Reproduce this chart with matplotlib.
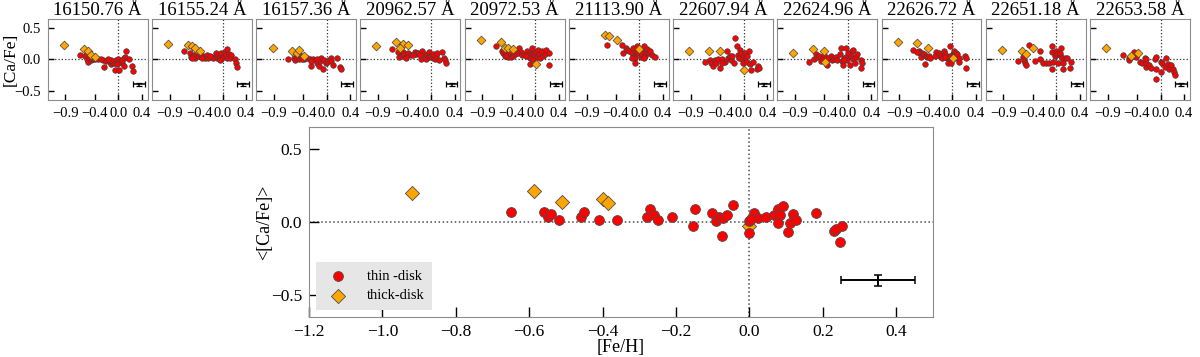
import matplotlib
matplotlib.use("Agg")
import matplotlib.pyplot as plt

plt.rcParams['font.family'] = ['Liberation Serif', 'DejaVu Serif']
plt.rcParams['mathtext.fontset'] = 'stix'

# line-by-line [Ca/Fe] vs [Fe/H], (feh, ca) pairs
titles = ["16150.76 Å", "16155.24 Å", "16157.36 Å", "20962.57 Å", "20972.53 Å",
          "21113.90 Å", "22607.94 Å", "22624.96 Å", "22626.72 Å", "22651.18 Å",
          "22653.58 Å"]

thin_16150 = [(-0.66, 0.07), (-0.56, 0.05), (-0.54, 0.00), (-0.52, -0.04), (-0.47, -0.01),
              (-0.43, 0.00), (-0.39, 0.00), (-0.35, 0.01), (-0.26, -0.01), (-0.25, -0.12),
              (-0.21, -0.02), (-0.15, -0.04), (-0.13, -0.08), (-0.10, -0.04), (-0.07, -0.06),
              (-0.06, -0.17), (-0.04, -0.01), (0.00, 0.00), (0.02, -0.17), (0.03, -0.04),
              (0.06, -0.05), (0.09, 0.02), (0.10, -0.11), (0.13, 0.14), (0.12, 0.04),
              (0.19, 0.00), (0.24, -0.11), (0.25, -0.18), (-0.12, -0.01), (-0.18, 0.00),
              (-0.30, 0.00), (-0.49, 0.02), (-0.42, 0.03), (-0.02, -0.08), (0.07, -0.01)]
thick_16150 = [(-0.93, 0.23), (-0.59, 0.17), (-0.52, 0.14), (-0.46, 0.07), (-0.39, 0.04)]

thin_16155 = [(-0.66, 0.14), (-0.56, 0.10), (-0.54, 0.04), (-0.49, 0.07), (-0.46, 0.03),
              (-0.42, 0.05), (-0.38, 0.09), (-0.33, 0.05), (-0.29, 0.03), (-0.27, 0.07),
              (-0.24, 0.02), (-0.18, 0.04), (-0.16, 0.03), (-0.11, 0.11), (-0.10, 0.03),
              (-0.07, 0.07), (-0.06, 0.02), (-0.03, 0.10), (-0.02, 0.00), (0.01, 0.04),
              (0.04, 0.12), (0.07, 0.17), (0.06, 0.07), (0.08, 0.02), (0.11, 0.09),
              (0.12, 0.03), (0.15, 0.07), (0.22, 0.00), (0.23, -0.05), (0.25, -0.12),
              (-0.21, 0.05), (-0.35, 0.02), (-0.52, 0.02), (-0.04, -0.01)]
thick_16155 = [(-0.93, 0.25), (-0.59, 0.24), (-0.52, 0.21), (-0.46, 0.18), (-0.39, 0.14)]

thin_16157 = [(-0.66, 0.01), (-0.56, 0.02), (-0.54, -0.01), (-0.51, 0.03), (-0.47, 0.00),
              (-0.43, 0.05), (-0.39, 0.00), (-0.37, 0.04), (-0.34, 0.02), (-0.28, 0.00),
              (-0.27, -0.10), (-0.23, 0.00), (-0.19, -0.01), (-0.16, -0.05), (-0.14, -0.10),
              (-0.12, -0.03), (-0.09, 0.03), (-0.07, -0.15), (-0.04, -0.01), (-0.02, -0.05),
              (0.01, -0.04), (0.03, -0.01), (0.08, 0.02), (0.11, -0.09), (0.18, 0.03),
              (0.22, -0.12), (0.24, -0.15), (-0.17, 0.01), (-0.26, -0.02), (-0.42, 0.01),
              (0.07, -0.02)]
thick_16157 = [(-0.92, 0.19), (-0.59, 0.14), (-0.51, 0.11), (-0.47, 0.15), (-0.39, 0.05)]

thin_20962 = [(-0.66, 0.17), (-0.56, 0.12), (-0.54, 0.04), (-0.50, 0.05), (-0.47, 0.12),
              (-0.46, 0.09), (-0.42, 0.04), (-0.39, 0.10), (-0.34, 0.07), (-0.28, 0.12),
              (-0.25, 0.09), (-0.22, 0.10), (-0.17, 0.00), (-0.16, 0.14), (-0.12, 0.09),
              (-0.08, 0.00), (-0.07, 0.07), (-0.04, 0.12), (-0.03, 0.04), (0.00, 0.05),
              (0.03, 0.02), (0.04, 0.09), (0.07, 0.00), (0.08, 0.05), (0.11, 0.10),
              (0.14, -0.01), (0.19, 0.12), (0.22, 0.03), (0.24, -0.01), (0.26, -0.06),
              (-0.19, 0.07), (-0.31, 0.07), (-0.43, 0.02)]
thick_20962 = [(-0.93, 0.22), (-0.59, 0.28), (-0.47, 0.25), (-0.39, 0.24), (-0.53, 0.18)]

thin_20972 = [(-0.66, 0.22), (-0.57, 0.14), (-0.55, 0.10), (-0.52, 0.05), (-0.49, 0.11),
              (-0.47, 0.04), (-0.44, 0.09), (-0.41, 0.04), (-0.37, 0.05), (-0.34, 0.09),
              (-0.30, 0.11), (-0.27, 0.19), (-0.24, 0.12), (-0.22, 0.07), (-0.17, 0.09),
              (-0.14, 0.14), (-0.12, 0.05), (-0.09, 0.11), (-0.08, 0.03), (-0.06, 0.09),
              (-0.05, 0.18), (-0.04, 0.00), (-0.02, 0.11), (-0.01, 0.07), (0.02, 0.12),
              (0.03, 0.04), (0.05, 0.16), (0.07, 0.09), (0.09, 0.02), (0.11, 0.14),
              (0.13, 0.05), (0.16, 0.09), (0.18, 0.15), (0.23, 0.10), (0.24, -0.09),
              (-0.08, -0.08), (-0.16, 0.05), (-0.49, 0.05)]
thick_20972 = [(-0.92, 0.32), (-0.59, 0.28), (-0.51, 0.19), (-0.47, 0.18), (-0.38, 0.17),
               (0.01, -0.08)]

thin_21113 = [(-0.55, 0.23), (-0.29, 0.23), (-0.28, 0.11), (-0.23, 0.18), (-0.21, 0.15),
              (-0.17, 0.14), (-0.13, 0.10), (-0.11, 0.18), (-0.09, 0.05), (-0.08, 0.02),
              (-0.07, -0.06), (-0.05, 0.12), (-0.02, 0.10), (0.02, 0.04), (0.03, 0.15),
              (0.04, 0.09), (0.07, 0.22), (0.09, 0.05), (0.11, 0.12), (0.13, 0.17),
              (0.16, 0.10), (0.18, 0.14), (0.21, 0.07), (0.26, 0.04), (-0.04, 0.21),
              (-0.12, 0.02), (0.07, 0.02)]
thick_21113 = [(-0.59, 0.39), (-0.51, 0.37), (-0.38, 0.31), (-0.01, 0.17)]

thin_22607 = [(-0.66, -0.04), (-0.58, -0.01), (-0.55, -0.06), (-0.52, -0.11), (-0.49, -0.01),
              (-0.47, -0.05), (-0.44, 0.00), (-0.41, -0.13), (-0.36, 0.00), (-0.32, -0.04),
              (-0.28, 0.14), (-0.26, 0.02), (-0.23, 0.04), (-0.21, -0.01), (-0.16, -0.05),
              (-0.15, 0.34), (-0.12, 0.22), (-0.09, 0.07), (-0.08, 0.03), (-0.06, 0.15),
              (-0.04, 0.10), (-0.02, 0.00), (-0.01, -0.06), (0.02, 0.04), (0.03, 0.11),
              (0.05, 0.05), (0.06, -0.04), (0.09, 0.14), (0.11, -0.08), (0.13, -0.17),
              (0.16, -0.04), (0.22, -0.16), (0.24, -0.11), (0.26, -0.14), (-0.24, 0.05),
              (-0.37, -0.06), (-0.19, 0.05)]
thick_22607 = [(-0.93, 0.13), (-0.59, 0.14), (-0.40, 0.14), (0.00, -0.17)]

thin_22624 = [(-0.66, -0.04), (-0.57, 0.00), (-0.54, 0.09), (-0.53, 0.04), (-0.49, 0.05),
              (-0.46, -0.02), (-0.43, 0.02), (-0.41, 0.07), (-0.36, -0.09), (-0.32, 0.02),
              (-0.29, 0.05), (-0.27, -0.01), (-0.24, 0.00), (-0.21, 0.04), (-0.18, -0.01),
              (-0.14, 0.09), (-0.12, 0.19), (-0.10, -0.02), (-0.08, -0.09), (-0.06, 0.02),
              (-0.04, 0.19), (-0.03, 0.04), (-0.01, -0.01), (0.01, 0.10), (0.03, -0.09),
              (0.05, 0.05), (0.07, 0.14), (0.08, 0.00), (0.09, 0.16), (0.12, -0.05),
              (0.14, 0.04), (0.15, 0.09), (0.23, -0.01), (0.24, -0.06), (0.23, -0.14),
              (-0.35, 0.02), (-0.07, -0.01)]
thick_22624 = [(-0.93, 0.10), (-0.59, 0.17), (-0.41, 0.14), (-0.39, -0.04)]

thin_22626 = [(-0.66, 0.16), (-0.56, 0.14), (-0.54, 0.10), (-0.53, 0.04), (-0.51, 0.11),
              (-0.48, 0.09), (-0.45, 0.05), (-0.46, -0.08), (-0.42, 0.04), (-0.39, 0.05),
              (-0.37, 0.03), (-0.28, 0.12), (-0.26, 0.07), (-0.23, 0.10), (-0.20, 0.05),
              (-0.17, 0.03), (-0.14, 0.14), (-0.12, 0.09), (-0.09, 0.02), (-0.07, -0.06),
              (-0.06, 0.04), (-0.04, 0.21), (-0.03, 0.05), (-0.02, -0.01), (-0.01, -0.06),
              (0.01, 0.09), (0.03, 0.14), (0.04, 0.07), (0.05, 0.03), (0.07, 0.11),
              (0.08, 0.09), (0.11, -0.04), (0.12, 0.03), (0.22, 0.05), (0.24, 0.02),
              (0.24, -0.14), (-0.12, 0.04), (-0.29, 0.05), (-0.59, 0.12)]
thick_22626 = [(-0.92, 0.28), (-0.59, 0.26), (-0.41, 0.19), (0.01, 0.02)]

thin_22651 = [(-0.65, -0.03), (-0.57, 0.04), (-0.55, -0.01), (-0.54, -0.05), (-0.52, -0.09),
              (-0.46, 0.24), (-0.36, -0.03), (-0.28, 0.14), (-0.28, 0.00), (-0.22, -0.06),
              (-0.17, -0.05), (-0.13, -0.05), (-0.08, 0.21), (-0.08, -0.16), (-0.07, 0.12),
              (-0.06, -0.04), (-0.03, 0.05), (0.00, 0.14), (0.02, 0.09), (0.03, -0.05),
              (0.06, 0.07), (0.07, 0.11), (0.08, 0.19), (0.09, 0.02), (0.11, -0.16),
              (0.11, -0.06), (0.14, 0.03), (0.18, 0.03), (0.24, -0.13), (0.25, -0.04)]
thick_22651 = [(-0.92, 0.16), (-0.59, 0.13), (-0.39, 0.18), (-0.51, 0.09)]

thin_22653 = [(-0.64, 0.07), (-0.54, 0.02), (-0.53, -0.01), (-0.51, 0.04), (-0.47, 0.07),
              (-0.45, 0.12), (-0.41, 0.04), (-0.35, -0.04), (-0.31, -0.06), (-0.27, 0.02),
              (-0.25, -0.12), (-0.24, -0.06), (-0.19, -0.09), (-0.16, -0.13), (-0.10, 0.00),
              (-0.08, 0.04), (-0.07, -0.15), (-0.07, -0.31), (0.00, -0.04), (0.01, -0.20),
              (0.03, -0.06), (0.07, -0.12), (0.09, 0.02), (0.12, -0.08), (0.14, -0.16),
              (0.18, -0.09), (0.21, -0.15), (0.23, -0.20), (0.25, -0.25), (-0.25, 0.00)]
thick_22653 = [(-0.92, 0.19), (-0.51, 0.05), (-0.38, 0.10)]

thin_lines = [thin_16150, thin_16155, thin_16157, thin_20962, thin_20972, thin_21113,
              thin_22607, thin_22624, thin_22626, thin_22651, thin_22653]
thick_lines = [thick_16150, thick_16155, thick_16157, thick_20962, thick_20972, thick_21113,
               thick_22607, thick_22624, thick_22626, thick_22651, thick_22653]

# mean <[Ca/Fe]> per star
thin_feh = [-0.65, -0.56, -0.55, -0.54, -0.52, -0.46, -0.45, -0.41, -0.36, -0.28,
            -0.27, -0.26, -0.25, -0.21, -0.155, -0.148, -0.103, -0.09, -0.084, -0.075,
            -0.073, -0.061, -0.045, 0.0, 0.0, 0.013, 0.024, 0.045, 0.067, 0.078,
            0.084, 0.078, 0.092, 0.105, 0.111, 0.119, 0.128, 0.182, 0.229, 0.235,
            0.252, 0.246, 0.004]
thin_ca = [0.07, 0.066, 0.037, 0.055, 0.016, 0.037, 0.07, 0.016, 0.014, 0.032,
           0.09, 0.045, 0.014, 0.032, -0.027, 0.09, 0.064, 0.007, 0.035, -0.098,
           0.03, 0.046, 0.114, 0.007, -0.075, 0.06, 0.025, 0.035, 0.05, 0.09,
           0.05, -0.005, 0.11, -0.066, -0.005, 0.053, 0.014, 0.061, -0.06, -0.05,
           -0.03, -0.14, 0.02]
thick_feh = [-0.92, -0.587, -0.51, -0.40, -0.385, 0.0]
thick_ca = [0.20, 0.21, 0.14, 0.157, 0.13, -0.03]

err_x, err_y = 0.35, -0.40

red = '#ff0000'
orange = '#ffa500'
spine = '0.55'

fig = plt.figure(figsize=(12, 3.57), dpi=100)

left0, w, step = 0.0398, 0.0833, 0.08685
for i in range(11):
    ax = fig.add_axes([left0 + i * step, 0.7199, w, 0.2269])
    th = thin_lines[i]
    tk = thick_lines[i]
    ax.axhline(0, color='0.2', ls=':', lw=0.9, zorder=1)
    ax.axvline(0, color='0.2', ls=':', lw=0.9, zorder=1)
    ax.scatter([p[0] for p in th], [p[1] for p in th], s=16, c=red,
               edgecolors='0.25', linewidths=0.5, zorder=3)
    ax.scatter([p[0] for p in tk], [p[1] for p in tk], s=20, c=orange, marker='D',
               edgecolors='0.25', linewidths=0.5, zorder=4)
    ax.errorbar(err_x, err_y, xerr=0.1, yerr=0.03, color='k', lw=1.1,
                capsize=2, capthick=0.9, zorder=5)
    ax.set_xlim(-1.2, 0.5)
    ax.set_ylim(-0.65, 0.65)
    ax.set_xticks([-0.9, -0.4, 0.0, 0.4])
    ax.set_xticklabels(['\u22120.9', '\u22120.4', '0.0', '0.4'])
    ax.set_yticks([-0.5, 0.0, 0.5])
    ax.tick_params(direction='in', length=4, width=1, labelsize=10.5, pad=5)
    if i == 0:
        ax.set_yticklabels(['\u22120.5', '0.0', '0.5'])
        ax.set_ylabel('[Ca/Fe]', fontsize=12.5, labelpad=-3)
    else:
        ax.set_yticklabels([])
    ax.set_title(titles[i], fontsize=13.5, pad=2)
    for s in ax.spines.values():
        s.set_color(spine)

ax = fig.add_axes([0.2575, 0.112, 0.52, 0.5322])
ax.axhline(0, color='0.3', ls=':', lw=1.1, zorder=1)
ax.axvline(0, color='0.3', ls=':', lw=1.1, zorder=1)
ax.scatter(thin_feh, thin_ca, s=50, c=red, edgecolors='0.3', linewidths=0.6,
           zorder=3, label='thin -disk')
ax.scatter(thick_feh, thick_ca, s=52, c=orange, marker='D', edgecolors='0.3',
           linewidths=0.6, zorder=2, label='thick-disk')
ax.errorbar(err_x, err_y, xerr=0.1, yerr=0.04, color='k', lw=1.4,
            capsize=3, capthick=1.1, zorder=5)
ax.set_xlim(-1.2, 0.5)
ax.set_ylim(-0.65, 0.65)
ax.set_xticks([-1.2, -1.0, -0.8, -0.6, -0.4, -0.2, 0.0, 0.2, 0.4])
ax.set_xticklabels(['\u22121.2', '\u22121.0', '\u22120.8', '\u22120.6', '\u22120.4',
                    '\u22120.2', '0.0', '0.2', '0.4'])
ax.set_yticks([-0.5, 0.0, 0.5])
ax.set_yticklabels(['\u22120.5', '0.0', '0.5'])
ax.tick_params(direction='in', length=7, width=1, labelsize=12.5, pad=5)
ax.set_xlabel('[Fe/H]', fontsize=13, labelpad=-1)
ax.set_ylabel('<[Ca/Fe]>', fontsize=13, labelpad=-2)
for s in ax.spines.values():
    s.set_color(spine)
leg = ax.legend(loc='lower left', fontsize=10.5, frameon=True, facecolor='#e6e6e6',
                edgecolor='none', framealpha=1, handletextpad=1.0, borderpad=0.5,
                labelspacing=0.45, borderaxespad=0.5, fancybox=False)

fig.savefig('out.png', dpi=100)
